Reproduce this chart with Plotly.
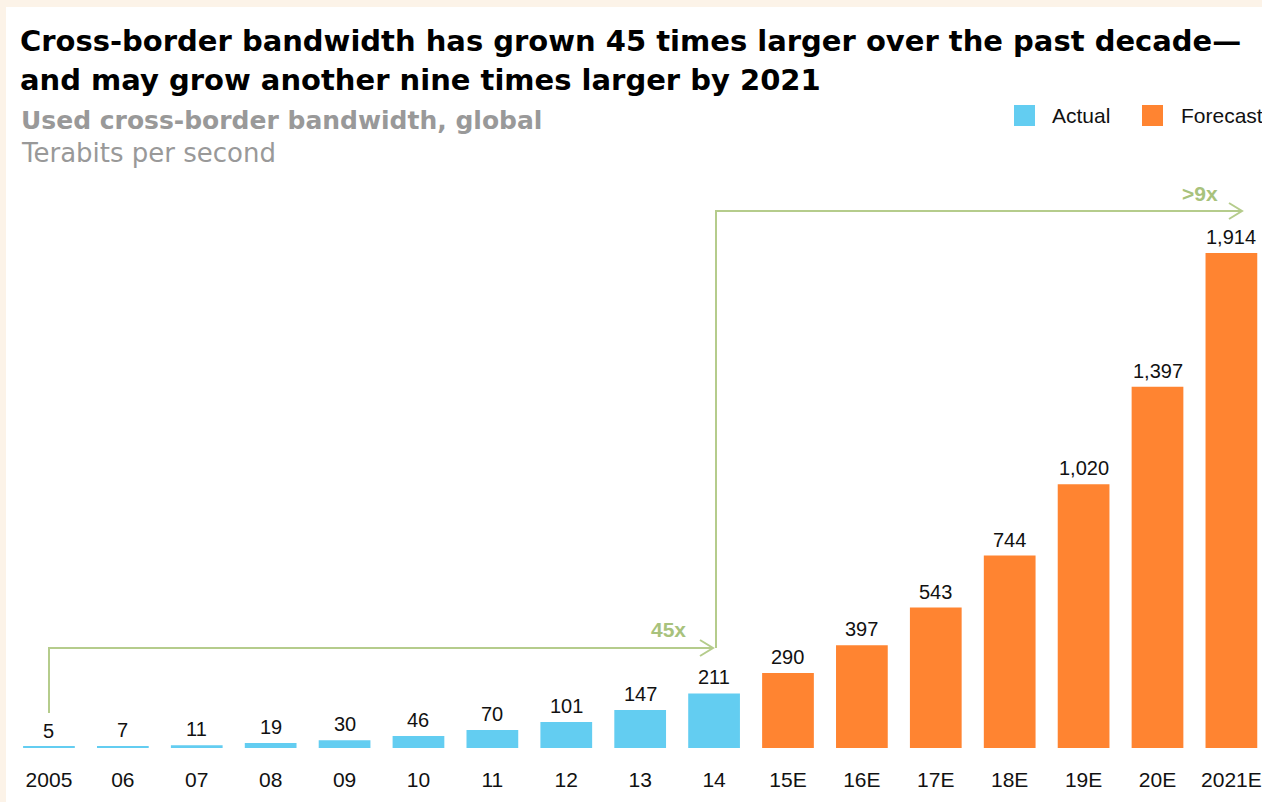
import plotly.graph_objects as go

# Used cross-border bandwidth, global (Tbps)
years = ["2005", "06", "07", "08", "09", "10", "11", "12", "13", "14",
         "15E", "16E", "17E", "18E", "19E", "20E", "2021E"]
values = [5, 7, 11, 19, 30, 46, 70, 101, 147, 211,
          290, 397, 543, 744, 1020, 1397, 1914]
is_forecast = [False] * 10 + [True] * 7

BLUE = "#63CDF1"
ORANGE = "#FF8431"
GREEN = "#B5CC8C"
GREEN_TXT = "#A8C27C"
FONT = "Liberation Sans, Arial, sans-serif"
HEAD_FONT = "DejaVu Sans, Liberation Sans, sans-serif"

W, H = 1262, 802
L, R, T, B = 12, 0, 170, 54
PW, PH = W - L - R, H - T - B


def px_x(p):
    return (p - L) / PW


def px_y(p):
    return (H - B - p) / PH


xs = list(range(len(years)))
act_x = [x for x, f in zip(xs, is_forecast) if not f]
act_v = [v for v, f in zip(values, is_forecast) if not f]
fc_x = [x for x, f in zip(xs, is_forecast) if f]
fc_v = [v for v, f in zip(values, is_forecast) if f]

fig = go.Figure()
fig.add_trace(go.Bar(x=act_x, y=act_v, name="Actual", marker_color=BLUE,
                     marker_line_width=0, width=0.7))
fig.add_trace(go.Bar(x=fc_x, y=fc_v, name="Forecast", marker_color=ORANGE,
                     marker_line_width=0, width=0.7))

annotations = []
# value labels above each bar
for x, v in zip(xs, values):
    annotations.append(dict(x=x, y=v, xref="x", yref="y", text=f"{v:,}",
                            showarrow=False, yanchor="bottom", yshift=3,
                            font=dict(family=FONT, size=20, color="#111111")))


def label(px, py, text, size, color, family=FONT, anchor="left"):
    return dict(x=px_x(px), y=px_y(py), xref="paper", yref="paper",
                xanchor=anchor, yanchor="middle", showarrow=False, text=text,
                font=dict(family=family, size=size, color=color))


annotations += [
    label(18, 41, "<b>Cross-border bandwidth has grown 45 times larger over the past decade—</b>",
          29, "#000000", HEAD_FONT),
    label(18, 80, "<b>and may grow another nine times larger by 2021</b>",
          29, "#000000", HEAD_FONT),
    label(19, 120, "<b>Used cross-border bandwidth, global</b>", 25, "#999999", HEAD_FONT),
    label(19, 153, "Terabits per second", 26, "#999999", HEAD_FONT),
    # legend texts
    label(1050, 116, "Actual", 21, "#111111"),
    label(1179, 116, "Forecast", 21, "#111111"),
    # growth multipliers
    label(668, 629, "<b>45x</b>", 21, GREEN_TXT, anchor="center"),
    label(1200, 193, "<b>>9x</b>", 21, GREEN_TXT, anchor="center"),
]

shapes = [
    # white panel
    dict(type="rect", xref="paper", yref="paper", layer="below",
         x0=px_x(6), x1=px_x(W + 10), y0=px_y(7), y1=px_y(H + 10),
         fillcolor="white", line_width=0),
    # legend swatches
    dict(type="rect", xref="paper", yref="paper",
         x0=px_x(1014), x1=px_x(1035), y0=px_y(105), y1=px_y(126),
         fillcolor=BLUE, line_width=0),
    dict(type="rect", xref="paper", yref="paper",
         x0=px_x(1142), x1=px_x(1163), y0=px_y(105), y1=px_y(126),
         fillcolor=ORANGE, line_width=0),
]

# growth arrows (pixel positions)
arrow1 = [(49, 713), (49, 648), (713, 648)]
arrow2 = [(716, 648), (716, 211), (1242, 211)]
for pts in (arrow1, arrow2):
    path = "M " + " L ".join(f"{px_x(a)},{px_y(b)}" for a, b in pts)
    shapes.append(dict(type="path", xref="paper", yref="paper", path=path,
                       line=dict(color=GREEN, width=2)))
    tx, ty = pts[-1]
    chev = [(tx - 13, ty - 8), (tx, ty), (tx - 13, ty + 8)]
    path = "M " + " L ".join(f"{px_x(a)},{px_y(b)}" for a, b in chev)
    shapes.append(dict(type="path", xref="paper", yref="paper", path=path,
                       line=dict(color=GREEN, width=2)))

fig.update_layout(
    width=W, height=H,
    margin=dict(l=L, r=R, t=T, b=B, pad=0),
    paper_bgcolor="#FCF3E8",
    plot_bgcolor="rgba(0,0,0,0)",
    showlegend=False,
    bargap=0.3,
    annotations=annotations,
    shapes=shapes,
    xaxis=dict(range=[-0.5, (W - 49) / 73.9], tickvals=xs, ticktext=years,
               showgrid=False, zeroline=False, showline=False, ticks="",
               ticklabelstandoff=17,
               tickfont=dict(family=FONT, size=21, color="#111111")),
    yaxis=dict(range=[0, PH / 0.2586], visible=False, showgrid=False),
)

fig.write_html("out.html")
